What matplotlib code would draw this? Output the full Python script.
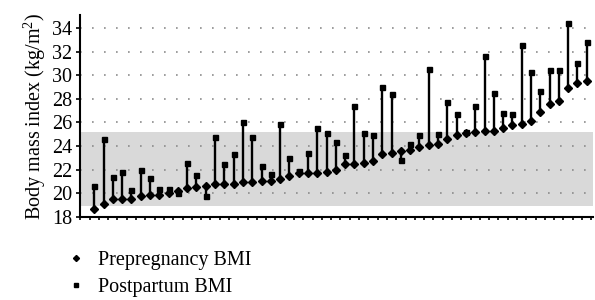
import matplotlib
matplotlib.use("Agg")
import matplotlib.pyplot as plt
import numpy as np

plt.rcParams["font.family"] = ["Liberation Serif", "DejaVu Serif"]
plt.rcParams["mathtext.fontset"] = "custom"
plt.rcParams["mathtext.rm"] = "Liberation Serif"
plt.rcParams["mathtext.it"] = "Liberation Serif:italic"

# BMI per subject, sorted by prepregnancy value
pre_bmi = [18.7, 19.1, 19.5, 19.5, 19.5, 19.75, 19.85, 19.85, 20.0, 20.2,
           20.45, 20.5, 20.6, 20.8, 20.8, 20.8, 20.95, 20.95, 21.0, 21.0,
           21.25, 21.5, 21.7, 21.7, 21.75, 21.8, 22.0, 22.45, 22.5, 22.6,
           22.75, 23.35, 23.4, 23.6, 23.7, 23.95, 24.1, 24.15, 24.6, 24.95,
           25.1, 25.2, 25.25, 25.3, 25.55, 25.8, 25.9, 26.1, 26.85, 27.55,
           27.85, 28.95, 29.3, 29.55]
post_bmi = [20.65, 24.6, 21.4, 21.8, 20.3, 22.0, 21.3, 20.4, 20.4, 20.0,
            22.55, 21.55, 19.8, 24.8, 22.5, 23.3, 26.0, 24.8, 22.35, 21.65,
            25.9, 23.0, 21.9, 23.4, 25.55, 25.1, 24.35, 23.25, 27.4, 25.1,
            24.9, 29.0, 28.45, 22.8, 24.2, 24.9, 30.5, 25.0, 27.7, 26.7,
            25.2, 27.4, 31.6, 28.5, 26.8, 26.7, 32.6, 30.3, 28.65, 30.45,
            30.4, 34.4, 31.0, 32.85]
normal_range = (18.9, 25.2)
y_ticks = [18, 20, 22, 24, 26, 28, 30, 32, 34]

x = np.arange(len(pre_bmi))

fig = plt.figure(figsize=(5.95, 3.0), dpi=100)
ax = fig.add_axes([0.135, 0.277, 0.862, 0.673])

ax.axhspan(normal_range[0], normal_range[1], color="#d9d9d9", lw=0, zorder=0)
for yv in y_ticks[1:]:
    ax.axhline(yv, color="#8c8c8c", lw=1.2, ls=(0, (1, 6.2)), zorder=1)

ax.vlines(x, pre_bmi, post_bmi, color="black", lw=1.7, zorder=2)
h_post, = ax.plot(x, post_bmi, ls="none", marker="s", ms=3.6, color="black",
                  zorder=3, label="Postpartum BMI")
h_pre, = ax.plot(x, pre_bmi, ls="none", marker="D", ms=4.4, color="black",
                 zorder=4, label="Prepregnancy BMI")

ax.set_xlim(-1.5, len(pre_bmi) - 0.3)
ax.set_ylim(18, 35.1)
ax.set_yticks(y_ticks)
ax.set_xticks(np.arange(-1.5, len(pre_bmi), 1.0))
ax.tick_params(axis="x", labelbottom=False, length=2.5, width=1.2, direction="out")
ax.tick_params(axis="y", labelsize=14.5, length=3, width=1.2, direction="out", pad=3)
ax.set_ylabel(r"Body mass index (kg/m$^2$)", fontsize=14.5, labelpad=3)

for s in ["top", "right"]:
    ax.spines[s].set_visible(False)
for s in ["left", "bottom"]:
    ax.spines[s].set_linewidth(1.5)

fig.legend(handles=[h_pre, h_post], loc="upper left", bbox_to_anchor=(0.12, 0.165),
           frameon=False, fontsize=14.5, handlelength=0.5, handletextpad=0.8,
           labelspacing=0.42, borderpad=0, borderaxespad=0, markerscale=0.7)

fig.savefig("out.png", dpi=100)
